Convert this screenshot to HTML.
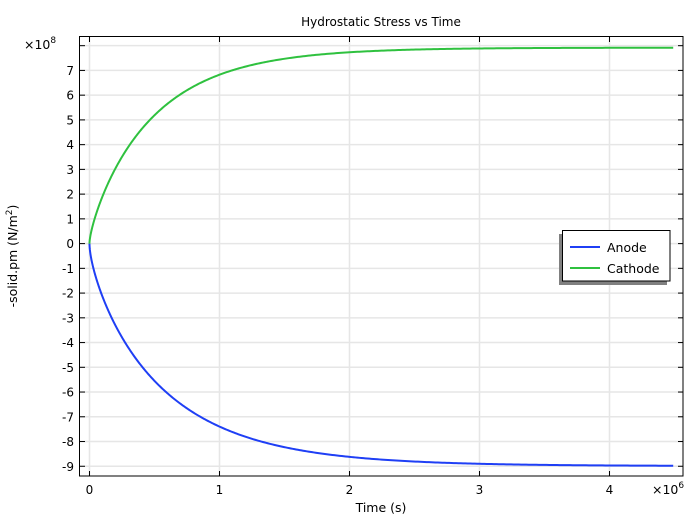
<!DOCTYPE html>
<html><head><meta charset="utf-8"><style>
body{margin:0;background:#fff;}
svg{display:block;font-family:"DejaVu Sans","Liberation Sans",sans-serif;}
</style></head><body>
<svg id="s" width="690" height="518" viewBox="0 0 690 518" xmlns="http://www.w3.org/2000/svg">
<rect width="690" height="518" fill="#fff"/>
<g id="grid" stroke="#e6e6e6" stroke-width="1.5"></g>
<g id="ticks" stroke="#000" stroke-width="1"></g>
<path id="an" fill="none" stroke="#1f3ff5" stroke-width="2"/>
<path id="ca" fill="none" stroke="#2fc13f" stroke-width="2"/>
<rect x="79.5" y="36.5" width="603.5" height="439.5" fill="none" stroke="#000" stroke-width="1"/>
<g id="labels" font-size="12" fill="#000"></g>
<text x="381" y="26" font-size="12" text-anchor="middle">Hydrostatic Stress vs Time</text>
<text x="381" y="512" font-size="12.5" text-anchor="middle">Time (s)</text>
<text transform="translate(17,256) rotate(-90)" font-size="12.5" text-anchor="middle">-solid.pm (N/m<tspan dy="-5" font-size="9">2</tspan><tspan dy="5">)</tspan></text>
<text x="24" y="49" font-size="12.5">×10<tspan dy="-6" font-size="9">8</tspan></text>
<text x="652" y="494" font-size="12.5">×10<tspan dy="-6" font-size="9">6</tspan></text>
<rect x="559" y="234" width="108" height="51" fill="#808080"/>
<rect x="562.5" y="230.5" width="107.5" height="50.5" fill="#fff" stroke="#000"/>
<line x1="570" y1="247" x2="600" y2="247" stroke="#1f3ff5" stroke-width="2"/>
<line x1="570" y1="268" x2="600" y2="268" stroke="#2fc13f" stroke-width="2"/>
<text x="607" y="252" font-size="12.5">Anode</text>
<text x="607" y="273" font-size="12.5">Cathode</text>
</svg>
<script>
var X=function(t){return 89.5+130*t;}, Y=function(v){return 243.6-24.74*v;};
var g=document.getElementById('grid'),tk=document.getElementById('ticks'),lb=document.getElementById('labels');
var ns='http://www.w3.org/2000/svg';
function el(p,n,a,txt){var e=document.createElementNS(ns,n);for(var k in a)e.setAttribute(k,a[k]);if(txt!==undefined)e.textContent=txt;p.appendChild(e);}
for(var v=-9;v<=8;v++){var y=Y(v);
 el(g,'line',{x1:80,x2:683,y1:y,y2:y});
 el(tk,'line',{x1:80,x2:85,y1:y,y2:y});el(tk,'line',{x1:678,x2:683,y1:y,y2:y});
 if(v<=7) el(lb,'text',{x:74,y:y+4.5,'text-anchor':'end'},String(v));}
for(var t=0;t<=4;t++){var x=X(t);
 el(g,'line',{x1:x,x2:x,y1:37,y2:476});
 el(tk,'line',{x1:x,x2:x,y1:471,y2:476});el(tk,'line',{x1:x,x2:x,y1:37,y2:42});
 el(lb,'text',{x:x,y:494,'text-anchor':'middle'},String(t));}
function path(A,a,b){var d='';for(var i=0;i<=400;i++){var t=4.49*Math.pow(i/400,2);var v=A*(1-Math.exp(-(a*Math.sqrt(t)+b*t)));d+=(i?'L':'M')+X(t).toFixed(2)+','+Y(v).toFixed(2);}return d;}
document.getElementById('an').setAttribute('d',path(-8.99,0.46,1.27));
document.getElementById('ca').setAttribute('d',path(7.92,0.36,1.62));
</script>
</body></html>
